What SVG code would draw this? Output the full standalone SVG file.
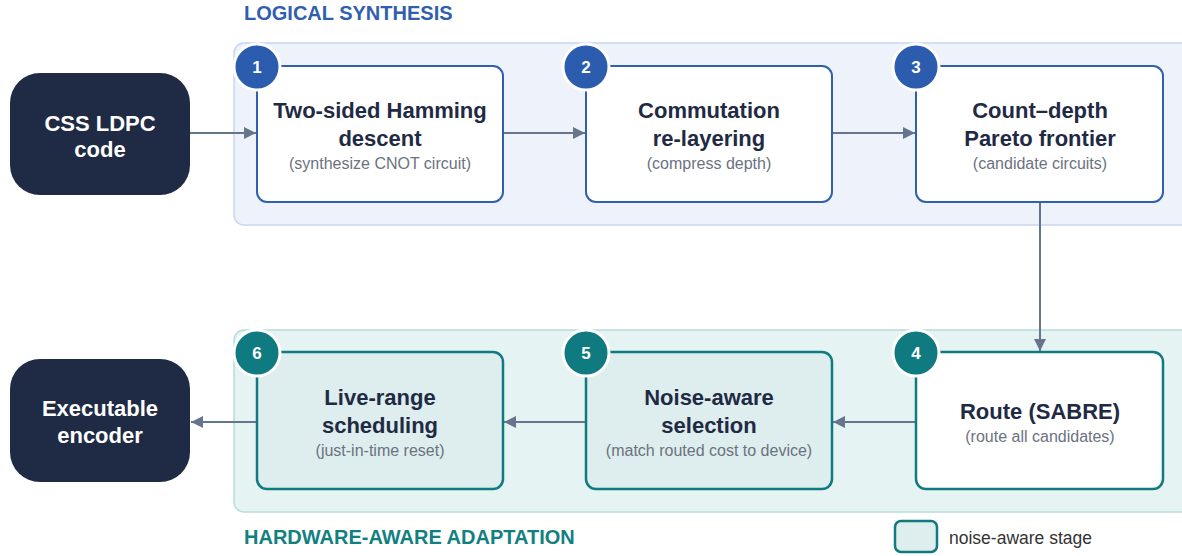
<svg xmlns="http://www.w3.org/2000/svg" width="1182" height="556" viewBox="0 0 1182 556">
<defs>
<style>
.title{font-family:"Liberation Sans",Arial,sans-serif;font-weight:bold;font-size:22px;fill:#1f2a44;text-anchor:middle}
.sub{font-family:"Liberation Sans",Arial,sans-serif;font-size:16px;fill:#6b7280;text-anchor:middle}
.term{font-family:"Liberation Sans",Arial,sans-serif;font-weight:bold;font-size:22px;fill:#ffffff;text-anchor:middle}
.badge-t{font-family:"Liberation Sans",Arial,sans-serif;font-weight:bold;font-size:17px;fill:#ffffff;text-anchor:middle}
.sec{font-family:"Liberation Sans",Arial,sans-serif;font-weight:bold;font-size:20px}
.bluebox{fill:#ffffff;stroke:#2f5fae;stroke-width:2}
.tealbox{fill:#ffffff;stroke:#0f7b80;stroke-width:2.5}
.noisebox{fill:#deeded;stroke:#0f7b80;stroke-width:2.5}
.bbadge{fill:#2b5cad;stroke:#ffffff;stroke-width:3}
.tbadge{fill:#0f7b80;stroke:#ffffff;stroke-width:3}
.conn{stroke:#66758c;stroke-width:2;fill:none;marker-end:url(#arr)}
</style>
<marker id="arr" viewBox="0 0 10 10" refX="10" refY="5" markerWidth="6" markerHeight="6" markerUnits="strokeWidth" orient="auto">
<path d="M0,0 L10,5 L0,10 z" fill="#66758c"/>
</marker>
</defs>
<rect width="1182" height="556" fill="#ffffff"/>

<g id="panel-logical">
<rect x="234" y="43" width="958" height="182" rx="10" fill="#edf2fb" stroke="#c6d6ef" stroke-width="1.5"/>
<text class="sec" x="244" y="20" fill="#2f5fae">LOGICAL SYNTHESIS</text>
</g>
<g id="panel-hardware">
<rect x="234" y="330" width="958" height="182" rx="10" fill="#e6f3f3" stroke="#b8dbdb" stroke-width="1.5"/>
<text class="sec" x="244" y="544" fill="#12807f">HARDWARE-AWARE ADAPTATION</text>
</g>

<g id="connectors">
<line class="conn" x1="190" y1="133" x2="256" y2="133"/>
<line class="conn" x1="503" y1="133" x2="585" y2="133"/>
<line class="conn" x1="832" y1="133" x2="915" y2="133"/>
<line class="conn" x1="1040" y1="202" x2="1040" y2="351"/>
<line class="conn" x1="916" y1="422" x2="833" y2="422"/>
<line class="conn" x1="586" y1="422" x2="504" y2="422"/>
<line class="conn" x1="257" y1="422" x2="191" y2="422"/>
</g>

<g id="input">
<rect x="10" y="73" width="180" height="122" rx="30" fill="#1f2a44"/>
<text class="term" x="100" y="131">CSS LDPC</text>
<text class="term" x="100" y="157">code</text>
</g>

<g id="step1">
<rect class="bluebox" x="257" y="66" width="246" height="136" rx="10"/>
<text class="title" x="380" y="118">Two-sided Hamming</text>
<text class="title" x="380" y="146">descent</text>
<text class="sub" x="380" y="169">(synthesize CNOT circuit)</text>
<circle class="bbadge" cx="257" cy="67" r="23"/>
<text class="badge-t" x="257" y="73">1</text>
</g>

<g id="step2">
<rect class="bluebox" x="586" y="66" width="246" height="136" rx="10"/>
<text class="title" x="709" y="118">Commutation</text>
<text class="title" x="709" y="146">re-layering</text>
<text class="sub" x="709" y="169">(compress depth)</text>
<circle class="bbadge" cx="586" cy="67" r="23"/>
<text class="badge-t" x="586" y="73">2</text>
</g>

<g id="step3">
<rect class="bluebox" x="916" y="66" width="247" height="136" rx="10"/>
<text class="title" x="1040" y="118">Count–depth</text>
<text class="title" x="1040" y="146">Pareto frontier</text>
<text class="sub" x="1040" y="169">(candidate circuits)</text>
<circle class="bbadge" cx="916" cy="67" r="23"/>
<text class="badge-t" x="916" y="73">3</text>
</g>

<g id="step4">
<rect class="tealbox" x="916" y="352" width="247" height="137" rx="10"/>
<text class="title" x="1040" y="419">Route (SABRE)</text>
<text class="sub" x="1040" y="442">(route all candidates)</text>
<circle class="tbadge" cx="916" cy="353" r="23"/>
<text class="badge-t" x="916" y="359">4</text>
</g>

<g id="step5">
<rect class="noisebox" x="586" y="352" width="246" height="137" rx="10"/>
<text class="title" x="709" y="405">Noise-aware</text>
<text class="title" x="709" y="433">selection</text>
<text class="sub" x="709" y="456">(match routed cost to device)</text>
<circle class="tbadge" cx="586" cy="353" r="23"/>
<text class="badge-t" x="586" y="359">5</text>
</g>

<g id="step6">
<rect class="noisebox" x="257" y="352" width="246" height="137" rx="10"/>
<text class="title" x="380" y="405">Live-range</text>
<text class="title" x="380" y="433">scheduling</text>
<text class="sub" x="380" y="456">(just-in-time reset)</text>
<circle class="tbadge" cx="257" cy="353" r="23"/>
<text class="badge-t" x="257" y="359">6</text>
</g>

<g id="output">
<rect x="10" y="359" width="180" height="123" rx="30" fill="#1f2a44"/>
<text class="term" x="100" y="416">Executable</text>
<text class="term" x="100" y="443">encoder</text>
</g>

<g id="legend">
<rect x="895" y="521" width="42" height="31" rx="6" fill="#deeded" stroke="#0f7b80" stroke-width="2.5"/>
<text x="949" y="544" font-family="'Liberation Sans',Arial,sans-serif" font-size="17.5" fill="#333333">noise-aware stage</text>
</g>
</svg>
